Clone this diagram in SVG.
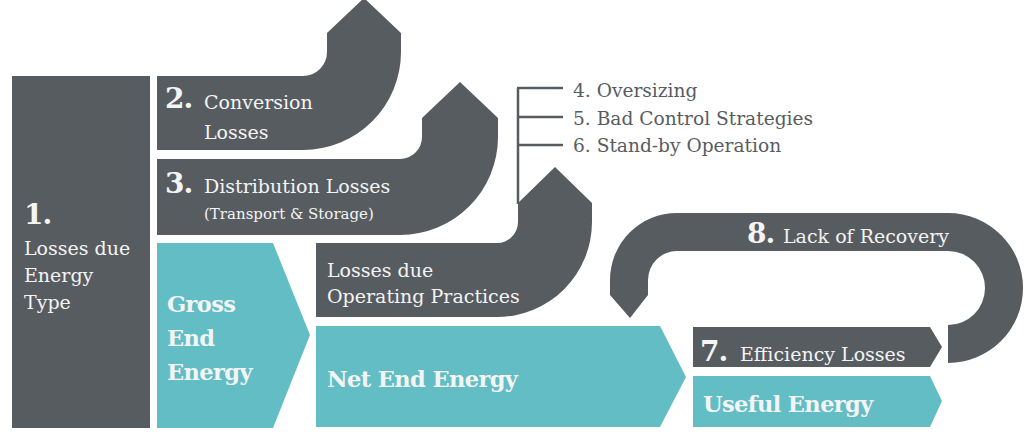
<svg xmlns="http://www.w3.org/2000/svg" width="1024" height="435" viewBox="0 0 1024 435">
<style>
.g{fill:#575c61}
.t{fill:#62bec4}
.w{fill:#f4f4f4;font-family:"DejaVu Serif","Liberation Serif",serif}
.r{font-size:19px}
.s{font-size:15px}
.n{font-size:28px;font-weight:bold;letter-spacing:-1px}
.e{font-size:22.5px;font-weight:bold;letter-spacing:-0.6px}
.l{fill:#575c61;font-family:"DejaVu Serif","Liberation Serif",serif;font-size:18.6px}
.c{stroke:#575c61;stroke-width:2.5;fill:none}
</style>
<rect width="1024" height="435" fill="#ffffff"/>
<g id="n1">
<rect class="g" x="12" y="76" width="138" height="352"/>
<text class="w n" x="24" y="224">1.</text>
<text class="w r" x="24" y="255">Losses due</text>
<text class="w r" x="24" y="282">Energy</text>
<text class="w r" x="24" y="309">Type</text>
</g>
<g id="n2">
<path class="g" d="M157,76 H303 A24,24 0 0 0 327,52 V33 L364,-2 L401,33 V52 A98,98 0 0 1 303,150 H157 Z"/>
<text class="w n" x="165" y="108">2.</text>
<text class="w r" x="204" y="109">Conversion</text>
<text class="w r" x="204" y="139">Losses</text>
</g>
<g id="n3">
<path class="g" d="M157,159 H400 A22,22 0 0 0 422,137 V118 L460,82 L498,118 V137 A98,98 0 0 1 400,235 H157 Z"/>
<text class="w n" x="165" y="193">3.</text>
<text class="w r" x="204" y="193">Distribution Losses</text>
<text class="w s" x="204" y="219">(Transport &amp; Storage)</text>
</g>
<g id="n-gross">
<polygon class="t" points="157,243 273,243 310,335 273,428 157,428"/>
<text class="w e" x="167" y="312">Gross</text>
<text class="w e" x="167" y="346">End</text>
<text class="w e" x="167" y="380">Energy</text>
</g>
<g id="n-operating">
<path class="g" d="M316,243 H497 A21,21 0 0 0 518,222 V203 L555,167 L592,203 V222 A95,95 0 0 1 497,317 H316 Z"/>
<text class="w r" x="327" y="277">Losses due</text>
<text class="w r" x="327" y="303">Operating Practices</text>
</g>
<g id="connectors">
<path class="c" d="M518,88 V204"/>
<path class="c" d="M517,88 H563 M517,117 H563 M517,145 H563"/>
</g>
<g id="n4-6">
<text class="l" x="573" y="97">4. Oversizing</text>
<text class="l" x="573" y="125">5. Bad Control Strategies</text>
<text class="l" x="573" y="152">6. Stand-by Operation</text>
</g>
<g id="n-net">
<polygon class="t" points="316,326 660,326 686,377 660,427 316,427"/>
<text class="w e" x="327" y="387">Net End Energy</text>
</g>
<g id="n8">
<path class="g" d="M948,363 A75,75 0 0 0 948,213 H677 A67,67 0 0 0 610,280 V295 L630,318 L648,295 V280 A29,29 0 0 1 677,251 H948 A37,37 0 0 1 948,325 Z"/>
<text class="w n" x="747" y="243">8.</text>
<text class="w r" x="783" y="243">Lack of Recovery</text>
</g>
<g id="n7">
<polygon class="g" points="693,327 930,327 942,347 930,367 693,367"/>
<text class="w n" x="700" y="361">7.</text>
<text class="w r" x="740" y="361">Efficiency Losses</text>
</g>
<g id="n-useful">
<polygon class="t" points="693,376 930,376 942,401 930,427 693,427"/>
<text class="w e" x="703" y="412">Useful Energy</text>
</g>
</svg>
